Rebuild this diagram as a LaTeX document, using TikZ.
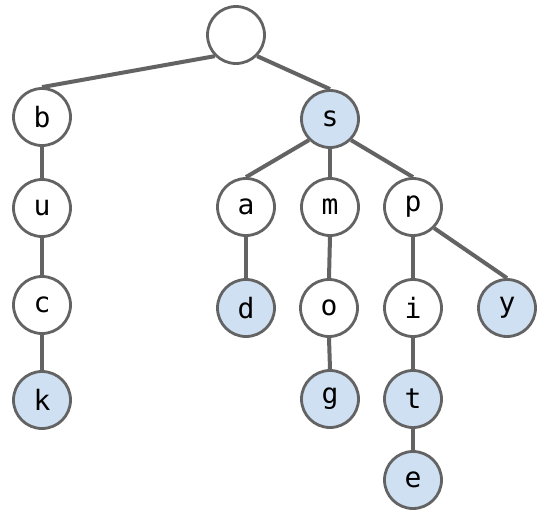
\documentclass[tikz,border=0pt]{standalone}
\usepackage{fontspec}
\newfontfamily\monof{DejaVu Sans Mono}
\usetikzlibrary{backgrounds}
\definecolor{edgegray}{HTML}{636363}
\definecolor{leafblue}{HTML}{CFE0F2}
\tikzset{
  trienode/.style={circle, draw=edgegray, line width=2.8pt, fill=white, minimum size=57pt, inner sep=0pt, font=\fontsize{28}{28}\monof},
  endnode/.style={trienode, fill=leafblue},
  link/.style={draw=edgegray, line width=4pt}
}
\begin{document}
\begin{tikzpicture}[x=1pt,y=-1pt]
\useasboundingbox (0,0) rectangle (541,512);
\node[trienode] (root) at (236,35) {};
\node[trienode] (b) at (42,117) {b};
\node[trienode] (u) at (42,208) {u};
\node[trienode] (c) at (42,305) {c};
\node[endnode] (k) at (42,400) {k};
\node[endnode] (s) at (330,119) {s};
\node[trienode] (a) at (246,207) {a};
\node[trienode] (m) at (330,207) {m};
\node[trienode] (p) at (413,207) {p};
\node[endnode] (d) at (246,308) {d};
\node[trienode] (o) at (329,308) {o};
\node[trienode] (i) at (413,308) {i};
\node[endnode] (y) at (507,308) {y};
\node[endnode] (g) at (330,399) {g};
\node[endnode] (t) at (413,399) {t};
\node[endnode] (e) at (413,480) {e};
\begin{scope}[on background layer]
\draw[link] (root.south west) -- (b.north);
\draw[link] (root.south east) -- (s.north);
\draw[link] (b.south) -- (u.north);
\draw[link] (u.south) -- (c.north);
\draw[link] (c.south) -- (k.north);
\draw[link] (s.south west) -- (a.north);
\draw[link] (s.south) -- (m.north);
\draw[link] (s.south east) -- (p.north);
\draw[link] (a.south) -- (d.north);
\draw[link] (m.south) -- (o.north);
\draw[link] (p.south) -- (i.north);
\draw[link] (p.south east) -- (y.north);
\draw[link] (o.south) -- (g.north);
\draw[link] (i.south) -- (t.north);
\draw[link] (t.south) -- (e.north);
\end{scope}
\end{tikzpicture}
\end{document}
